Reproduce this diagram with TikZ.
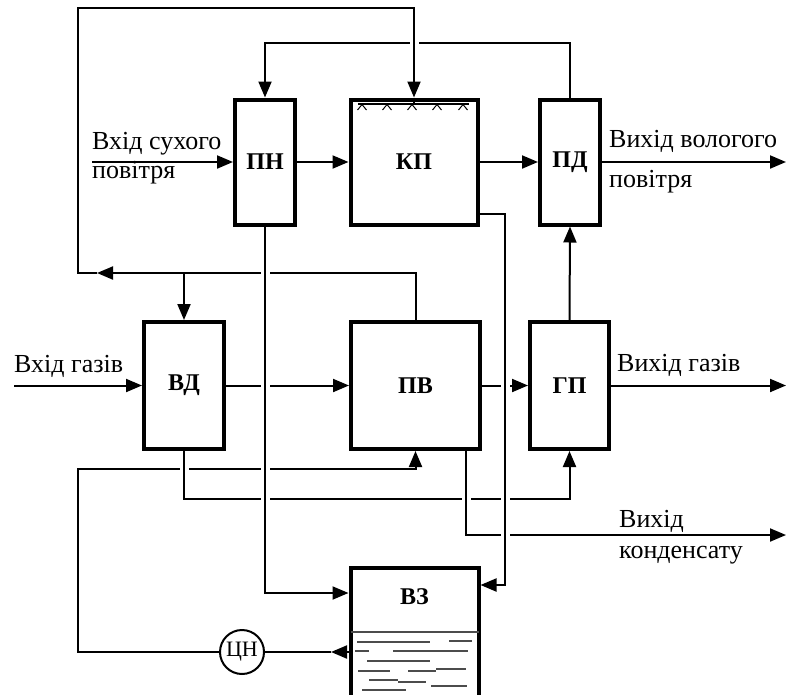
\documentclass[tikz,border=0pt]{standalone}
\usepackage{fontspec}
\setmainfont{Liberation Serif}
\usetikzlibrary{arrows.meta,calc}
\pgfdeclarelayer{bg}
\pgfsetlayers{bg,main}
\begin{document}
\begin{tikzpicture}[x=1pt,y=-1pt,
  box/.style={draw, line width=4pt, rectangle, inner sep=0pt, font=\fontsize{24}{28}\selectfont\bfseries},
  lbl/.style={inner sep=0pt, font=\fontsize{24}{28}\selectfont\bfseries},
  wire/.style={line width=2pt},
  flow/.style={wire, -{Triangle[length=16pt,width=13pt]}},
  bridge/.style={preaction={draw=white, line width=9pt, -}},
  txt/.style={anchor=base west, inner sep=0pt, font=\fontsize{26}{30}\selectfont},
  water/.style={line width=1.3pt, draw=black!70},
]
\useasboundingbox (0,0) rectangle (786,694);

% blocks
\node[box, minimum width=60, minimum height=125] (pn) at (265,162) {ПН};
\node[box, minimum width=127, minimum height=125] (kp) at (414,162) {КП};
\node[box, minimum width=60, minimum height=125] (pd) at (570,162) {ПД};
\node[box, minimum width=80, minimum height=127] (vd) at (184,385.5) {ВД};
\node[box, minimum width=129, minimum height=127] (pv) at (415.5,385.5) {ПВ};
\node[box, minimum width=79, minimum height=127] (gp) at (569.5,385.5) {ГП};
\node[box, minimum width=128, minimum height=152] (vz) at (414.5,644) {};
\node[lbl] (vzl) at (414.5,597) {ВЗ};
\node[circle, draw, line width=2pt, minimum size=44, inner sep=0pt, font=\fontsize{22}{24}\selectfont] (cn) at (242,652) {ЦН};

% water in tank
\draw[water] (350.5,632) -- (478.5,632);
\foreach \y/\a/\b in {642/357/430, 641/449/472, 651/355/369, 651/393/468, 661/367/430, 671/358/390, 671/408/436, 669/436/466, 680/369/398, 682/398/426, 686/431/467, 690/362/406}
  \draw[water] (\a,\y) -- (\b,\y);

% spray nozzles in KP
\coordinate (sp) at (414,104);
\draw[line width=1.3pt] (358,104) -- (469,104);
\draw[line width=1.3pt] (kp.north) -- (sp);
\foreach \x in {362,387,412,437,463}
  \draw[line width=1pt] (\x-4.5,110) -- (\x,104.5) -- (\x+4.5,110);

% texts
\node[txt] (t1) at (92,149) {Вхід сухого};
\node[txt] (t2) at (92,178) {повітря};
\node[txt] (t3) at (609,147) {Вихід вологого};
\node[txt] (t4) at (609,187) {повітря};
\node[txt] (t5) at (14,372) {Вхід газів};
\node[txt] (t6) at (617,371) {Вихід газів};
\node[txt] (t7) at (619,527) {Вихід};
\node[txt] (t8) at (619,558) {конденсату};

\begin{pgfonlayer}{bg}
% loop PD -> PN
\coordinate (tB) at (0,43);
\draw[flow] (pd.north) -- (pd.north |- tB) -| (pn.north);
% loop PV -> KP and VD
\coordinate (ca) at (97,273);
\coordinate (cc) at (78,8);
\draw[flow] (pv.north) |- (ca);
\draw[flow, bridge] (ca) -| (cc) -| (kp.north);
\draw[flow] (vd.north |- ca) -- (vd.north);
% air line
\coordinate (inA) at (92,162);
\coordinate (outA) at (786,162);
\draw[flow] (inA) -- (pn.west);
\draw[flow] (pn.east) -- (kp.west);
\draw[flow] (kp.east) -- (pd.west);
\draw[flow] (pd.east) -- (outA);
% gas line
\coordinate (inG) at (14,385.5);
\coordinate (outG) at (786,385.5);
\draw[flow] (inG) -- (vd.west);
\draw[flow] (vd.east) -- (pv.west);
\draw[flow] (pv.east) -- (gp.west);
\draw[flow] (gp.east) -- (outG);
\draw[flow] (gp.north) -- (pd.south);
% pump loop
\coordinate (p1) at (331,652);
\draw[flow] (vz.west |- p1) -- (p1);
\draw[wire] (p1) -- (cn.east);
\coordinate (q1) at (78,469);
\draw[flow] (cn.west) -| (q1) -| (pv.south);
% VD -> GP
\coordinate (r1) at (0,499);
\draw[flow, bridge] (vd.south) -- (vd.south |- r1) -| (gp.south);
% condensate
\coordinate (c1) at (466,535);
\coordinate (outC) at (786,535);
\draw[flow, bridge] (c1 |- pv.south) |- (outC);
% KP -> VZ
\coordinate (k5) at (505,585);
\draw[flow, bridge] ($(kp.south east)+(0,-13)$) -| (k5) -- (k5 -| vz.east);
% PN -> VZ
\coordinate (j1) at (265,593);
\draw[flow, bridge] (pn.south) -- (j1) -- (j1 -| vz.west);
\end{pgfonlayer}
\end{tikzpicture}
\end{document}
